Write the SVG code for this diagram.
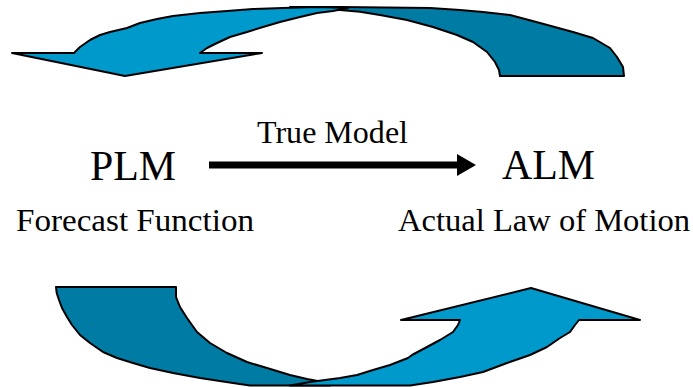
<svg xmlns="http://www.w3.org/2000/svg" width="693" height="387" viewBox="0 0 693 387">
<style>
.light{fill:#0099CC;stroke:#000;stroke-width:2;stroke-linejoin:round}
.dark{fill:#007BA3;stroke:#000;stroke-width:2;stroke-linejoin:round}
.t{font-family:'Liberation Serif','Times New Roman',Times,'DejaVu Serif','Noto Serif',serif;fill:#000}
.big{font-size:42px}
.sub{font-size:32px}
</style>
<defs>
<marker id="head" markerWidth="4" markerHeight="4" refX="0" refY="2" orient="auto" markerUnits="userSpaceOnUse" viewBox="0 0 4 4" overflow="visible">
<path d="M0,-9 L19,2 L0,13 Z" fill="#000"/>
</marker>
</defs>
<g id="cycle-top">
<path class="dark" d="M290,7 L340,7 L430,8 L460,10 L483,12 L510,15 L540,23 L573,32 L593,38 L610,48 L617,57 L623,67 L624,76 L500,76 L499,70 L495,62 L487,52 L473,42 L457,35 L433,27 L407,20 L380,15 L360,11.7 L340,10 L310,9 Z"/>
<path class="light" d="M12,53 L74,53 L80,47 L90,40 L100,35 L110,32 L127,28 L140,23 L157,19 L173,16 L200,13 L227,11 L253,9 L283,8 L317,7 L348,8 L333,11 L317,13 L300,17 L280,22 L263,27 L247,32 L230,37 L217,43 L207,48 L200,53 L262,53 L125,76 Z"/>
</g>
<g id="cycle-bottom">
<path class="dark" d="M56,287 L176,287 L176,297 L180,307 L187,318 L197,332 L210,343 L227,353 L247,362 L267,368 L290,375 L307,379 L323,382 L330,385.5 L250,385.5 L233,383 L200,378 L173,373 L150,368 L133,363 L117,358 L103,352 L90,343 L80,335 L72,325 L67,317 L62,308 L59,300 L56.7,293 Z"/>
<path class="light" d="M401,320 L531,288 L640,320 L579,320 L575,325 L570,332 L560,338 L547,347 L530,355 L507,363 L483,372 L460,377 L433,382 L410,385.5 L290,385.5 L310,382 L340,378 L357,375 L373,370 L390,365 L408,358 L412,355 L427,347 L440,340 L453,332 L458,325 L460,320 Z"/>
</g>
<g id="plm">
<text class="t big" x="90" y="180" textLength="86" lengthAdjust="spacingAndGlyphs">PLM</text>
<text class="t sub" x="16" y="231" textLength="238" lengthAdjust="spacingAndGlyphs">Forecast Function</text>
</g>
<g id="alm">
<text class="t big" x="502" y="179" textLength="93" lengthAdjust="spacingAndGlyphs">ALM</text>
<text class="t sub" x="398" y="231" textLength="292" lengthAdjust="spacingAndGlyphs">Actual Law of Motion</text>
</g>
<g id="connectors">
<line x1="209" y1="165" x2="457" y2="165" stroke="#000" stroke-width="7" marker-end="url(#head)"/>
<text class="t sub" x="257" y="143" textLength="151" lengthAdjust="spacingAndGlyphs">True Model</text>
</g>
</svg>
